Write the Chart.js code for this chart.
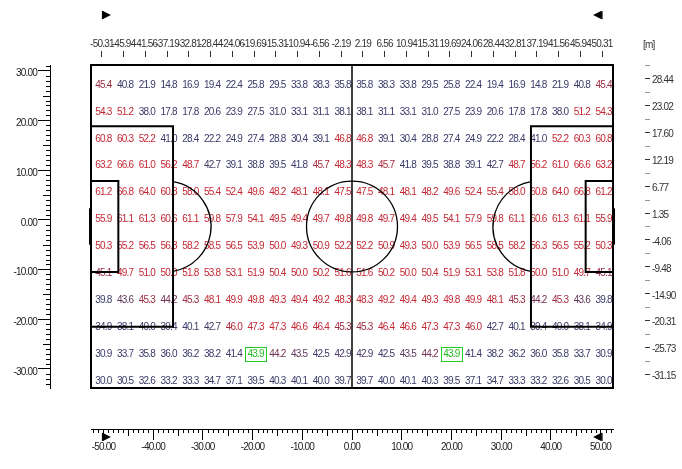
<!DOCTYPE html>
<html>
<head>
<meta charset="utf-8">
<script src="https://cdn.jsdelivr.net/npm/chart.js@4.4.1/dist/chart.umd.min.js"></script>
<style>
html, body { margin: 0; padding: 0; background: #fff; }
#wrap { width: 682px; height: 469px; }
</style>
</head>
<body>
<div id="wrap"><canvas id="pitchChart"></canvas></div>
<script>
// cell centres along the pitch [m] (top axis)
var xCenters = [-50.31, -45.94, -41.56, -37.19, -32.81, -28.44, -24.06, -19.69, -15.31, -10.94, -6.56, -2.19,
                2.19, 6.56, 10.94, 15.31, 19.69, 24.06, 28.44, 32.81, 37.19, 41.56, 45.94, 50.31];
// cell centres across the pitch [m] (right axis)
var yCenters = [28.44, 23.02, 17.60, 12.19, 6.77, 1.35, -4.06, -9.48, -14.90, -20.31, -25.73, -31.15];

// one row of cell values per array, top to bottom
var row01 = [45.4, 40.8, 21.9, 14.8, 16.9, 19.4, 22.4, 25.8, 29.5, 33.8, 38.3, 35.8, 35.8, 38.3, 33.8, 29.5, 25.8, 22.4, 19.4, 16.9, 14.8, 21.9, 40.8, 45.4];
var row02 = [54.3, 51.2, 38.0, 17.8, 17.8, 20.6, 23.9, 27.5, 31.0, 33.1, 31.1, 38.1, 38.1, 31.1, 33.1, 31.0, 27.5, 23.9, 20.6, 17.8, 17.8, 38.0, 51.2, 54.3];
var row03 = [60.8, 60.3, 52.2, 41.0, 28.4, 22.2, 24.9, 27.4, 28.8, 30.4, 39.1, 46.8, 46.8, 39.1, 30.4, 28.8, 27.4, 24.9, 22.2, 28.4, 41.0, 52.2, 60.3, 60.8];
var row04 = [63.2, 66.6, 61.0, 56.2, 48.7, 42.7, 39.1, 38.8, 39.5, 41.8, 45.7, 48.3, 48.3, 45.7, 41.8, 39.5, 38.8, 39.1, 42.7, 48.7, 56.2, 61.0, 66.6, 63.2];
var row05 = [61.2, 66.8, 64.0, 60.8, 58.0, 55.4, 52.4, 49.6, 48.2, 48.1, 48.1, 47.5, 47.5, 48.1, 48.1, 48.2, 49.6, 52.4, 55.4, 58.0, 60.8, 64.0, 66.8, 61.2];
var row06 = [55.9, 61.1, 61.3, 60.6, 61.1, 59.8, 57.9, 54.1, 49.5, 49.4, 49.7, 49.8, 49.8, 49.7, 49.4, 49.5, 54.1, 57.9, 59.8, 61.1, 60.6, 61.3, 61.1, 55.9];
var row07 = [50.3, 55.2, 56.5, 56.3, 58.2, 58.5, 56.5, 53.9, 50.0, 49.3, 50.9, 52.2, 52.2, 50.9, 49.3, 50.0, 53.9, 56.5, 58.5, 58.2, 56.3, 56.5, 55.2, 50.3];
var row08 = [45.1, 49.7, 51.0, 50.0, 51.8, 53.8, 53.1, 51.9, 50.4, 50.0, 50.2, 51.6, 51.6, 50.2, 50.0, 50.4, 51.9, 53.1, 53.8, 51.8, 50.0, 51.0, 49.7, 45.1];
var row09 = [39.8, 43.6, 45.3, 44.2, 45.3, 48.1, 49.9, 49.8, 49.3, 49.4, 49.2, 48.3, 48.3, 49.2, 49.4, 49.3, 49.8, 49.9, 48.1, 45.3, 44.2, 45.3, 43.6, 39.8];
var row10 = [34.9, 38.1, 40.0, 39.4, 40.1, 42.7, 46.0, 47.3, 47.3, 46.6, 46.4, 45.3, 45.3, 46.4, 46.6, 47.3, 47.3, 46.0, 42.7, 40.1, 39.4, 40.0, 38.1, 34.9];
var row11 = [30.9, 33.7, 35.8, 36.0, 36.2, 38.2, 41.4, 43.9, 44.2, 43.5, 42.5, 42.9, 42.9, 42.5, 43.5, 44.2, 43.9, 41.4, 38.2, 36.2, 36.0, 35.8, 33.7, 30.9];
var row12 = [30.0, 30.5, 32.6, 33.2, 33.3, 34.7, 37.1, 39.5, 40.3, 40.1, 40.0, 39.7, 39.7, 40.0, 40.1, 40.3, 39.5, 37.1, 34.7, 33.3, 33.2, 32.6, 30.5, 30.0];
var rows = [row01, row02, row03, row04, row05, row06, row07, row08, row09, row10, row11, row12];

// selected cells (row, column) with the green frame
var highlighted = [[10, 7], [10, 16]];

// axis tick labels
var bottomTicks = [-50, -40, -30, -20, -10, 0, 10, 20, 30, 40, 50];
var leftTicks = [30, 20, 10, 0, -10, -20, -30];

// range handles above and below the pitch
var handleX = [-49.3, 49.3];
var handleY = [41.2, -43.7];

var xMin = -52.5, xMax = 52.5;
var yMin = -33.86, yMax = 31.15;

// pitch markings [m]
var pitch = {
    boxDepth: 16.5, boxHalf: 20.16,
    areaDepth: 5.5, areaHalf: 9.16,
    goalHalf: 3.66,
    circleR: 9.15,
    spotDist: 15.0
};

var FONT = "'Liberation Sans', Arial, sans-serif";

function valueColor(v) {
    var t = Math.min(1, Math.max(0, (v - 42.5) / 4));
    var r = Math.round(58 + t * (196 - 58));
    var g = Math.round(58 + t * (40 - 58));
    var b = Math.round(104 + t * (52 - 104));
    return 'rgb(' + r + ',' + g + ',' + b + ')';
}

var cells = [];
rows.forEach(function (row, i) {
    row.forEach(function (v, j) {
        cells.push({ x: xCenters[j], y: yCenters[i], v: v, row: i, col: j });
    });
});

var textSpacing = {
    id: 'textSpacing',
    beforeDraw: function (chart) {
        chart.ctx.letterSpacing = '-0.8px';
    }
};

var cellLabels = {
    id: 'cellLabels',
    afterDatasetsDraw: function (chart) {
        var ctx = chart.ctx;
        var meta = chart.getDatasetMeta(0);
        ctx.save();
        ctx.font = '10px ' + FONT;
        ctx.textAlign = 'center';
        ctx.textBaseline = 'middle';
        meta.data.forEach(function (el, k) {
            var c = cells[k];
            var isSel = highlighted.some(function (h) { return h[0] === c.row && h[1] === c.col; });
            ctx.fillStyle = isSel ? '#22bb22' : valueColor(c.v);
            ctx.fillText(c.v.toFixed(1), el.x + 1.5, el.y + 6.5);
            if (isSel) {
                ctx.strokeStyle = '#22cc22';
                ctx.lineWidth = 1;
                ctx.strokeRect(Math.round(el.x - 9) + 0.5, Math.round(el.y - 1) + 0.5, 21, 14);
            }
        });
        ctx.restore();
    }
};

var pitchLines = {
    id: 'pitchLines',
    afterDatasetsDraw: function (chart) {
        var ctx = chart.ctx, sx = chart.scales.x, sy = chart.scales.y;
        var px = function (v) { return sx.getPixelForValue(v); };
        var py = function (v) { return sy.getPixelForValue(v); };
        var midY = (yMin + yMax) / 2;
        var mx = px(1) - px(0), my = py(0) - py(1);
        ctx.save();
        ctx.strokeStyle = '#000';
        ctx.lineWidth = 2;
        ctx.strokeRect(px(xMin), py(yMax), px(xMax) - px(xMin), py(yMin) - py(yMax));
        ctx.lineWidth = 1.5;
        ctx.beginPath();
        ctx.moveTo(px(0), py(yMax));
        ctx.lineTo(px(0), py(yMin));
        ctx.stroke();
        ctx.lineWidth = 2;
        [-1, 1].forEach(function (side) {
            var goal = side * xMax;
            ctx.beginPath();
            ctx.moveTo(px(goal), py(midY + pitch.boxHalf));
            ctx.lineTo(px(goal - side * pitch.boxDepth), py(midY + pitch.boxHalf));
            ctx.lineTo(px(goal - side * pitch.boxDepth), py(midY - pitch.boxHalf));
            ctx.lineTo(px(goal), py(midY - pitch.boxHalf));
            ctx.moveTo(px(goal), py(midY + pitch.areaHalf));
            ctx.lineTo(px(goal - side * pitch.areaDepth), py(midY + pitch.areaHalf));
            ctx.lineTo(px(goal - side * pitch.areaDepth), py(midY - pitch.areaHalf));
            ctx.lineTo(px(goal), py(midY - pitch.areaHalf));
            ctx.stroke();
            // goal mouth
            ctx.save();
            ctx.lineWidth = 3;
            ctx.beginPath();
            ctx.moveTo(px(goal) + side * 0.5, py(midY + pitch.goalHalf));
            ctx.lineTo(px(goal) + side * 0.5, py(midY - pitch.goalHalf));
            ctx.stroke();
            ctx.restore();
            // arc outside the box
            var cx = px(goal - side * pitch.spotDist);
            var a = Math.acos((pitch.boxDepth - pitch.spotDist) / pitch.circleR);
            ctx.save();
            ctx.lineWidth = 1.3;
            ctx.beginPath();
            if (side < 0) ctx.ellipse(cx, py(midY), pitch.circleR * mx, pitch.circleR * my, 0, -a, a);
            else ctx.ellipse(cx, py(midY), pitch.circleR * mx, pitch.circleR * my, 0, Math.PI - a, Math.PI + a);
            ctx.stroke();
            ctx.restore();
        });
        ctx.lineWidth = 1.3;
        ctx.beginPath();
        ctx.ellipse(px(0), py(midY), pitch.circleR * mx, pitch.circleR * my, 0, 0, Math.PI * 2);
        ctx.stroke();
        ctx.restore();
    }
};

// small ticks between the labelled ones, unit label and range handles
var axisExtras = {
    id: 'axisExtras',
    afterDraw: function (chart) {
        var ctx = chart.ctx, sx = chart.scales.x, sy = chart.scales.y, sr = chart.scales.y2;
        ctx.save();
        ctx.lineWidth = 1;
        ctx.strokeStyle = '#000';
        ctx.beginPath();
        for (var v = -52; v <= 52; v++) {
            if (v % 10 === 0) continue;
            var p = Math.round(sx.getPixelForValue(v)) + 0.5;
            var len = (v % 5 === 0) ? 7 : 4;
            ctx.moveTo(p, sx.top);
            ctx.lineTo(p, sx.top + len);
        }
        for (var w = -33; w <= 31; w++) {
            if (w % 10 === 0) continue;
            var q = Math.round(sy.getPixelForValue(w)) + 0.5;
            var l2 = (w % 5 === 0) ? 7 : 4;
            ctx.moveTo(sy.right, q);
            ctx.lineTo(sy.right - l2, q);
        }
        ctx.stroke();
        ctx.strokeStyle = '#999';
        ctx.beginPath();
        for (var k = 0; k < yCenters.length; k++) {
            var edge = k === 0 ? yMax : (yCenters[k - 1] + yCenters[k]) / 2;
            var e = Math.round(sr.getPixelForValue(edge)) + 0.5;
            ctx.moveTo(sr.left, e);
            ctx.lineTo(sr.left + 5, e);
        }
        ctx.stroke();
        ctx.fillStyle = '#333';
        ctx.font = '10px ' + FONT;
        ctx.textAlign = 'left';
        ctx.textBaseline = 'middle';
        ctx.fillText('[m]', sr.left - 2, 45);

        // handles: left ones point right, right ones point left
        ctx.fillStyle = '#000';
        handleX.forEach(function (hx, i) {
            var dir = i === 0 ? 1 : -1;
            handleY.forEach(function (hy) {
                var cx = sx.getPixelForValue(hx), cy = sy.getPixelForValue(hy);
                ctx.beginPath();
                ctx.moveTo(cx - dir * 4, cy - 4);
                ctx.lineTo(cx + dir * 4, cy);
                ctx.lineTo(cx - dir * 4, cy + 4);
                ctx.closePath();
                ctx.fill();
                ctx.fillRect(cx - dir * 4 - (dir > 0 ? 1 : 0), cy - 4, 1.5, 8);
            });
        });
        ctx.restore();
    }
};

function spacer(pos, size) {
    return {
        type: 'linear', position: pos, weight: 0,
        grid: { display: false }, border: { display: false }, ticks: { display: false },
        afterFit: function (s) { if (pos === 'left' || pos === 'right') s.width = size; else s.height = size; }
    };
}

var tickFont = { family: FONT, size: 10 };

var ctx = document.getElementById('pitchChart').getContext('2d');
var pitchChart = new Chart(ctx, {
    type: 'scatter',
    data: {
        datasets: [{
            data: cells,
            xAxisID: 'x',
            yAxisID: 'y',
            pointRadius: 0,
            pointHoverRadius: 0
        }]
    },
    options: {
        responsive: true,
        maintainAspectRatio: false,
        animation: false,
        layout: { padding: 0 },
        plugins: {
            legend: { display: false },
            tooltip: { enabled: false }
        },
        scales: {
            x: {
                type: 'linear', position: 'bottom', weight: 1, min: xMin, max: xMax,
                afterBuildTicks: function (s) { s.ticks = bottomTicks.map(function (v) { return { value: v }; }); },
                afterFit: function (s) { s.height = 40; },
                border: { display: true, color: '#000', width: 1 },
                grid: { drawOnChartArea: false, tickLength: 11, tickColor: '#000' },
                ticks: {
                    color: '#222', font: tickFont, padding: 1, maxRotation: 0, autoSkip: false,
                    callback: function (v) { return Number(v).toFixed(2); }
                }
            },
            xGap: spacer('bottom', 41),
            x2: {
                type: 'linear', position: 'top', weight: 1, min: xMin, max: xMax,
                afterBuildTicks: function (s) { s.ticks = xCenters.map(function (v) { return { value: v }; }); },
                afterFit: function (s) { s.height = 57; },
                border: { display: false },
                grid: { drawOnChartArea: false, tickLength: 6, tickColor: '#333' },
                ticks: {
                    color: '#333', font: tickFont, padding: 1, maxRotation: 0, minRotation: 0, autoSkip: false,
                    callback: function (v) { return Number(v).toFixed(2); }
                }
            },
            x2Gap: spacer('top', 8),
            y: {
                type: 'linear', position: 'left', weight: 1, min: yMin, max: yMax,
                afterBuildTicks: function (s) { s.ticks = leftTicks.map(function (v) { return { value: v }; }); },
                afterFit: function (s) { s.width = 50; },
                border: { display: true, color: '#000', width: 1 },
                grid: { drawOnChartArea: false, tickLength: 12, tickColor: '#000' },
                ticks: {
                    color: '#222', font: tickFont, padding: 1, labelOffset: 3, autoSkip: false,
                    callback: function (v) { return Number(v).toFixed(2); }
                }
            },
            yGap: spacer('left', 41),
            y2: {
                type: 'linear', position: 'right', weight: 1, min: yMin, max: yMax,
                afterBuildTicks: function (s) { s.ticks = yCenters.map(function (v) { return { value: v }; }); },
                afterFit: function (s) { s.width = 37; },
                border: { display: false },
                grid: { drawOnChartArea: false, tickLength: 5, tickColor: '#333' },
                ticks: {
                    color: '#333', font: tickFont, padding: 2, labelOffset: 2, autoSkip: false,
                    callback: function (v) { return Number(v).toFixed(2); }
                }
            },
            y2Gap: spacer('right', 32)
        }
    },
    plugins: [textSpacing, cellLabels, pitchLines, axisExtras]
});
</script>
</body>
</html>
